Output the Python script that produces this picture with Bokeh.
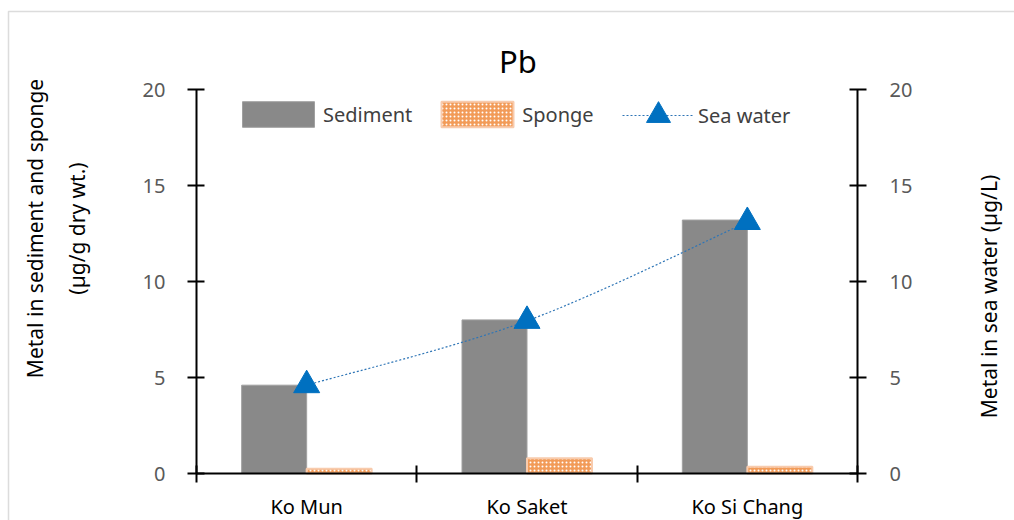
import numpy as np
from bokeh.plotting import figure
from bokeh.models import (Range1d, LinearAxis, FixedTicker, Label, Legend,
                          LegendItem, BoxAnnotation, ColumnDataSource)
from bokeh.embed import file_html
from bokeh.resources import INLINE

# ---- data -------------------------------------------------------------
chart_title = "Pb"
sites = ["Ko Mun", "Ko Saket", "Ko Si Chang"]
sediment = [4.6, 8.0, 13.2]      # µg/g dry wt.
sponge = [0.25, 0.8, 0.35]       # µg/g dry wt.
sea_water = [4.6, 7.95, 13.1]    # µg/L
y_ticks = [0, 5, 10, 15, 20]

FONT = "Noto Sans"
W, H = 1014, 520
# pixel box of the value area inside the canvas
PX_L, PX_R, PX_T, PX_B = 196, 857, 89, 473

n_sites = len(sites)
y_max = y_ticks[-1]
sx = (PX_R - PX_L) / n_sites
sy = (PX_B - PX_T) / y_max
x_rng = Range1d(-PX_L / sx, n_sites + (W - PX_R) / sx)
y_rng = Range1d(-(H - PX_B) / sy, y_max + PX_T / sy)

pos = np.arange(n_sites) + 0.5
bar_w = 0.295

# the frame fills the whole canvas; axes are pinned with fixed_location
p = figure(width=W, height=H, output_backend="svg", toolbar_location=None,
           x_range=x_rng, y_range=y_rng, x_axis_type=None, y_axis_type=None,
           min_border=0)
p.outline_line_color = None
p.background_fill_color = "white"
p.border_fill_color = "white"
p.extra_y_ranges = {"water": Range1d(y_rng.start, y_rng.end)}


def style_axis(ax):
    ax.axis_line_color = "black"
    ax.axis_line_width = 2
    ax.major_tick_line_color = "black"
    ax.major_tick_line_width = 2
    ax.major_tick_in = 8
    ax.major_tick_out = 9
    ax.minor_tick_line_color = None
    ax.major_label_text_font = FONT
    ax.major_label_text_font_size = "20px"
    ax.major_label_text_color = "#595959"


src = ColumnDataSource(dict(
    pos=pos, sed_x=pos - bar_w / 2, spo_x=pos + bar_w / 2,
    sediment=sediment, sponge=sponge, water=sea_water, site=sites))

r_sed = p.vbar(x="sed_x", top="sediment", bottom=0, width=bar_w, source=src,
               fill_color="#898989", line_color="#A0A0A0", line_width=1)
r_spo = p.vbar(x="spo_x", top="sponge", bottom=0, width=bar_w, source=src,
               fill_color="#F29B58", hatch_pattern="dot", hatch_color="white",
               hatch_scale=4, hatch_weight=1.6,
               line_color="#F8CBAD", line_width=2)

# smoothed sea-water curve: cubic Bezier segments through the points
xs = np.asarray(pos, dtype=float)
ys = np.asarray(sea_water, dtype=float)
xe = np.concatenate([[xs[0]], xs, [xs[-1]]])
ye = np.concatenate([[ys[0]], ys, [ys[-1]]])
n = len(xs)
seg = dict(
    x0=xs[:-1], y0=ys[:-1], x1=xs[1:], y1=ys[1:],
    cx0=[xs[i] + (xe[i + 2] - xe[i]) / 6 for i in range(n - 1)],
    cy0=[ys[i] + (ye[i + 2] - ye[i]) / 6 for i in range(n - 1)],
    cx1=[xs[i + 1] - (xe[i + 3] - xe[i + 1]) / 6 for i in range(n - 1)],
    cy1=[ys[i + 1] - (ye[i + 3] - ye[i + 1]) / 6 for i in range(n - 1)],
)
r_curve = p.bezier(x0="x0", y0="y0", x1="x1", y1="y1", cx0="cx0", cy0="cy0",
                   cx1="cx1", cy1="cy1", source=ColumnDataSource(seg),
                   line_color="#2E75B6", line_width=1.2, line_dash="2 2",
                   y_range_name="water")
r_tri = p.scatter(x="pos", y="water", source=src, marker="triangle", size=26,
                  fill_color="#0070C0", line_color="#0070C0",
                  y_range_name="water")

# axes
ax_left = LinearAxis(ticker=FixedTicker(ticks=y_ticks), major_label_standoff=22,
                     fixed_location=0, bounds=(0, y_max))
ax_right = LinearAxis(y_range_name="water", ticker=FixedTicker(ticks=y_ticks),
                      major_label_standoff=23, fixed_location=n_sites,
                      bounds=(0, y_max))
ax_bottom = LinearAxis(ticker=FixedTicker(ticks=list(range(n_sites + 1))),
                       fixed_location=0, bounds=(0, n_sites))
for ax in (ax_left, ax_right, ax_bottom):
    style_axis(ax)
ax_bottom.major_label_text_color = None   # boundary ticks carry no labels

# site names sit between the boundary ticks
ax_sites = LinearAxis(ticker=FixedTicker(ticks=list(pos)), fixed_location=0,
                      major_label_overrides={float(x): s for x, s in zip(pos, sites)},
                      major_label_standoff=10)
style_axis(ax_sites)
ax_sites.axis_line_color = None
ax_sites.major_tick_line_color = None
ax_sites.major_label_text_color = "black"

p.add_layout(ax_left, "left")
p.add_layout(ax_right, "right")
p.add_layout(ax_bottom, "below")
p.add_layout(ax_sites, "below")

# title and axis titles
p.add_layout(Label(x=517.5, y=H - 60, x_units="screen", y_units="screen",
                   text=chart_title, text_align="center",
                   text_baseline="alphabetic", text_font=FONT,
                   text_font_size="31px", text_color="black"))
for x, txt in ((34, "Metal in sediment and sponge"), (76, "(µg/g dry wt.)")):
    p.add_layout(Label(x=x, y=H - 228, x_units="screen", y_units="screen",
                       text=txt, angle=np.pi / 2, text_align="center",
                       text_baseline="middle", text_font=FONT,
                       text_font_size="21px", text_color="black"))
p.add_layout(Label(x=988, y=H - 296, x_units="screen", y_units="screen",
                   text="Metal in sea water (µg/L)", angle=np.pi / 2,
                   text_align="center", text_baseline="middle",
                   text_font=FONT, text_font_size="21px", text_color="black"))

# legends
common = dict(orientation="horizontal", padding=0, margin=0,
              border_line_color=None, background_fill_alpha=0,
              label_text_font=FONT, label_text_font_size="20px",
              label_text_color="#404040")
leg_bars = Legend(items=[LegendItem(label="Sediment", renderers=[r_sed]),
                         LegendItem(label="Sponge", renderers=[r_spo])],
                  location=(233, H - 130), glyph_width=90, glyph_height=32,
                  label_standoff=0, spacing=20, **common)
leg_water = Legend(items=[LegendItem(label="Sea water", renderers=[r_curve, r_tri])],
                   location=(622, H - 145), glyph_width=72, glyph_height=60,
                   label_standoff=4, **common)
p.add_layout(leg_bars)
p.add_layout(leg_water)

# thin frame around the chart area
p.add_layout(BoxAnnotation(left=8, right=W + 20, top=H - 11, bottom=-20,
                           left_units="screen", right_units="screen",
                           top_units="screen", bottom_units="screen",
                           fill_alpha=0, line_color="#8C8C8C", line_width=1.5))

open("out.html", "w").write(file_html(p, INLINE))
